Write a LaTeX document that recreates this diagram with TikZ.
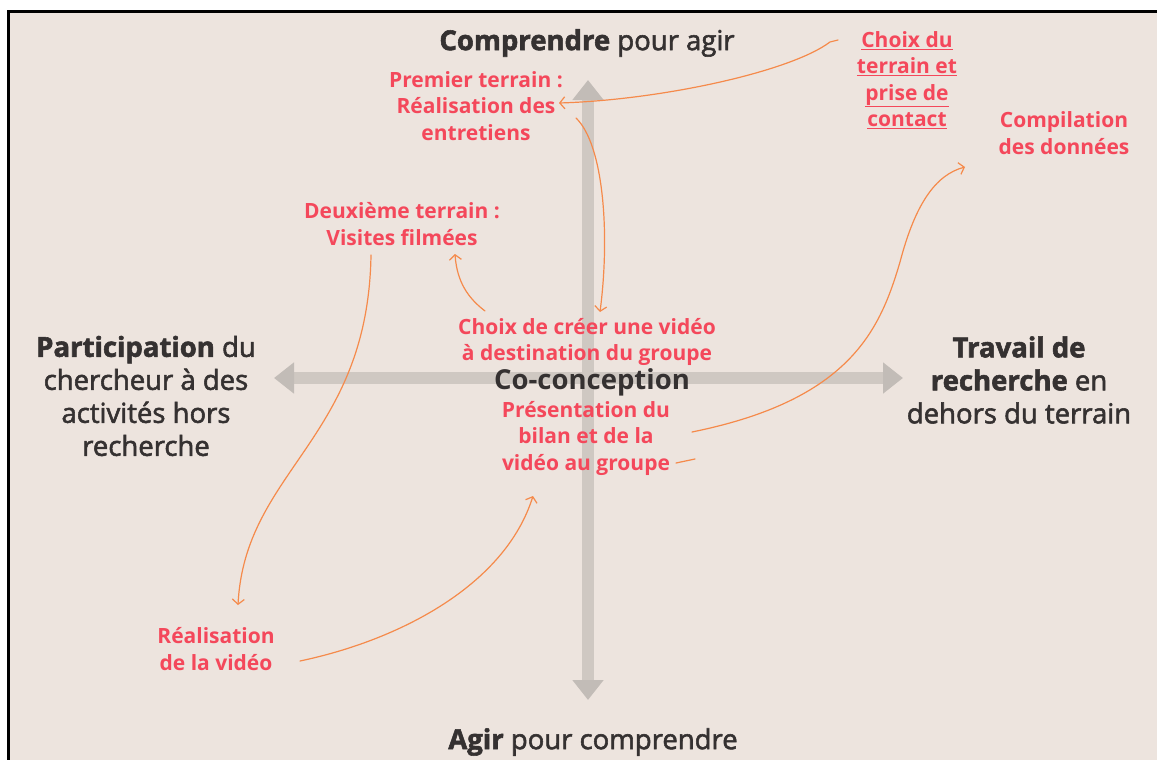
\documentclass[tikz,border=0pt]{standalone}
\usepackage{fontspec}
\setmainfont{Open Sans}
\newfontfamily\medfont{Open Sans}[FakeBold=2]
\usetikzlibrary{arrows.meta}
\definecolor{bg}{HTML}{EDE4DE}
\definecolor{dark}{HTML}{353131}
\definecolor{redt}{HTML}{F4485B}
\definecolor{orng}{HTML}{F58A4B}
\definecolor{axisc}{HTML}{CFC8C2}
\definecolor{axish}{HTML}{C2BCB7}
\begin{document}
\begin{tikzpicture}[x=1pt,y=-1pt,
  darklbl/.style={text=dark,font=\medfont\fontsize{27.5}{33}\selectfont,align=center,inner sep=0pt},
  redlbl/.style={text=redt,font=\bfseries\fontsize{21}{26.5}\selectfont,align=center,inner sep=0pt},
  conn/.style={orng,line width=1.2pt,line cap=round,-{Straight Barb[length=5pt,width=12pt,line width=1.2pt]}},
  tick/.style={orng,line width=1.2pt,line cap=round},
  axisline/.style={axisc,line width=12pt,{Triangle[length=20pt,width=30pt,color=axish]}-{Triangle[length=20pt,width=30pt,color=axish]}}]
\useasboundingbox (0,0) rectangle (1157,760);
\fill[white] (0,0) rectangle (1157,760);
\fill[bg] (10,13) rectangle (1157,760);
\fill[black] (7,10) rectangle (1157,13);
\fill[black] (7,10) rectangle (10,760);
% axes
\coordinate (axT) at (588,80);
\coordinate (axB) at (588,700);
\coordinate (axL) at (274,378);
\coordinate (axR) at (903,378);
\draw[axisline] (axB) -- (axT);
\draw[axisline] (axL) -- (axR);
% dark labels
\node[darklbl] (top) at (587,43) {\textbf{Comprendre} pour agir};
\node[darklbl] (bottom) at (593,742) {\textbf{Agir} pour comprendre};
\node[darklbl] (left) at (146,396) {\textbf{Participation} du\\chercheur à des\\activités hors\\recherche};
\node[darklbl] (right) at (1019,380) {\textbf{Travail de}\\\textbf{recherche} en\\dehors du terrain};
\node[darklbl,font=\bfseries\fontsize{27.5}{33}\selectfont] (coconc) at (592,382) {Co-conception};
% red labels
\node[redlbl] (premier) at (476,106) {Premier terrain :\\Réalisation des\\entretiens};
\node[redlbl] (choixdu) at (907,80) {\underline{Choix du}\\\underline{terrain et}\\\underline{prise de}\\\underline{contact}};
\node[redlbl] (compil) at (1064,133) {Compilation\\des données};
\node[redlbl] (deux) at (402,224) {Deuxième terrain :\\Visites filmées};
\node[redlbl] (choixcr) at (587,342) {Choix de créer une vidéo\\à destination du groupe};
\node[redlbl] (present) at (586,438) {Présentation du\\bilan et de la\\vidéo au groupe};
\node[redlbl] (realvid) at (216,649) {Réalisation\\de la vidéo};
% connector end points
\coordinate (c1s) at (838,40);
\coordinate (c1h) at (830,42);
\coordinate (c1e) at (559,103);
\coordinate (c2s) at (576,118);
\coordinate (c2e) at (600,312);
\coordinate (c3s) at (485,311);
\coordinate (c3e) at (455,254);
\coordinate (c4s) at (371,255);
\coordinate (c4e) at (238,605);
\coordinate (c5s) at (300,661);
\coordinate (c5e) at (533,496);
\coordinate (c6s) at (692,432);
\coordinate (c6m) at (900,262);
\coordinate (c6e) at (965,167);
\coordinate (t1) at (676,463);
\coordinate (t2) at (695,459);
% connectors
\draw[conn] (c1s) -- (c1h) .. controls (790,72) and (660,100) .. (c1e);
\draw[conn] (c2s) .. controls (604,145) and (610,235) .. (c2e);
\draw[conn] (c3s) .. controls (468,298) and (457,282) .. (c3e);
\draw[conn] (c4s) .. controls (368,440) and (245,470) .. (c4e);
\draw[conn] (c5s) .. controls (400,640) and (505,585) .. (c5e);
\draw[conn] (c6s) .. controls (850,400) and (880,330) .. (c6m) .. controls (915,205) and (935,175) .. (c6e);
\draw[tick] (t1) -- (t2);
\end{tikzpicture}
\end{document}
